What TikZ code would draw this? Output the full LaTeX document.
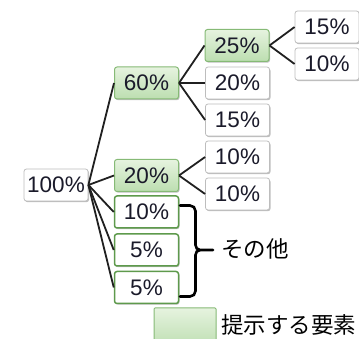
\documentclass[tikz,border=0pt]{standalone}
\usepackage{fontspec}
\setmainfont{Liberation Sans}
\newfontfamily\jp{Noto Sans CJK JP}
\usetikzlibrary{shadows}
\definecolor{gborder}{HTML}{86BA76}
\definecolor{gtop}{HTML}{E6F3DF}
\definecolor{gbot}{HTML}{BCDEB0}
\definecolor{dgreen}{HTML}{5E9A4C}
\definecolor{gray1}{HTML}{BDBDBD}
\definecolor{linec}{HTML}{202020}
\definecolor{txt}{HTML}{1A1A2A}
\tikzset{
  base/.style={rounded corners=2.5pt, minimum width=64pt, minimum height=32pt,
    inner sep=0pt, font=\fontsize{22.5}{25}\selectfont, text=txt,
    drop shadow={shadow xshift=1pt, shadow yshift=-1.2pt, fill=black, opacity=0.25}},
  wbox/.style={base, draw=gray1, fill=white, line width=0.8pt},
  gbox/.style={base, draw=gborder, top color=gtop, bottom color=gbot, line width=1pt},
  obox/.style={base, draw=dgreen, fill=white, line width=1.5pt},
  conn/.style={draw=linec, line width=1.8pt},
  jtext/.style={anchor=west, inner sep=0pt, font=\jp\fontsize{22.5}{25}\selectfont},
}
\begin{document}
\begin{tikzpicture}[x=1pt, y=-1pt]
\useasboundingbox (0,0) rectangle (359,339);
\node[wbox] (n100) at (56,185) {100\%};
\node[gbox] (n60) at (146.5,83) {60\%};
\node[gbox] (n20a) at (146.5,175.5) {20\%};
\node[obox] (n10a) at (146.5,212) {10\%};
\node[obox] (n5a) at (146.5,250) {5\%};
\node[obox] (n5b) at (146.5,287.5) {5\%};
\node[gbox] (n25) at (237,45.5) {25\%};
\node[wbox] (n20b) at (237.5,83) {20\%};
\node[wbox] (n15a) at (237.5,120) {15\%};
\node[wbox] (n10b) at (237.5,157) {10\%};
\node[wbox] (n10c) at (237.5,194) {10\%};
\node[wbox] (n15b) at (327,27) {15\%};
\node[wbox] (n10d) at (327,64) {10\%};
\foreach \c in {n60,n20a,n10a,n5a,n5b}{\draw[conn] (n100.east) -- (\c.west);}
\foreach \c in {n25,n20b,n15a}{\draw[conn] (n60.east) -- (\c.west);}
\foreach \c in {n15b,n10d}{\draw[conn] (n25.east) -- (\c.west);}
\foreach \c in {n10b,n10c}{\draw[conn] (n20a.east) -- (\c.west);}
\coordinate (btop) at (180,205.5);
\coordinate (bbot) at (180,296.5);
\coordinate (btip) at (213,250);
\draw[draw=black, line width=2.6pt, line cap=round] (btop) -- (190,205.5) to[out=0,in=90] (195.5,211) -- (195.5,245) to[out=-90,in=180] (200,250) -- (btip);
\draw[draw=black, line width=2.6pt, line cap=round] (200,250) to[out=180,in=90] (195.5,255) -- (195.5,291) to[out=-90,in=0] (190,296.5) -- (bbot);
\node[jtext] (other) at (221,249) {その他};
\node[draw=gborder, top color=gtop, bottom color=gbot, line width=1pt, rounded corners=1pt, minimum width=62pt, minimum height=40pt, inner sep=0pt] (leg) at (185,328) {};
\node[jtext] (legt) at (221,325) {提示する要素};
\end{tikzpicture}
\end{document}
